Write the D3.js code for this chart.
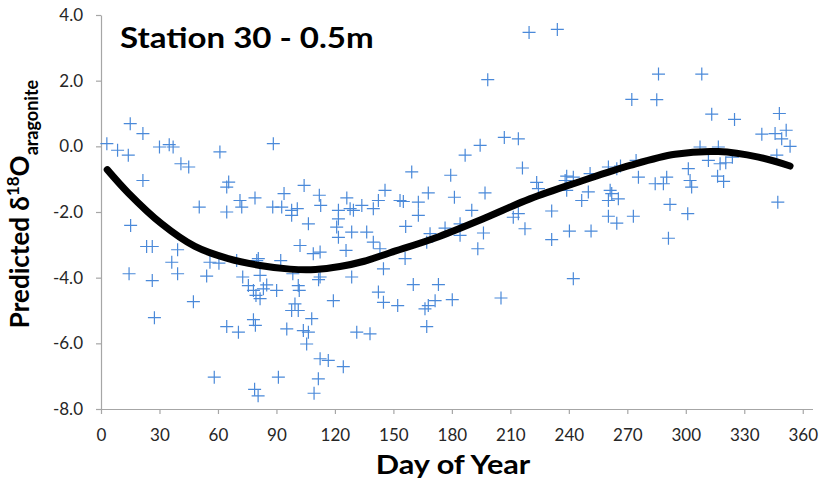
<!DOCTYPE html>
<html>
<head>
<meta charset="utf-8">
<script src="https://cdn.jsdelivr.net/npm/d3@7"></script>
<style>
  body { margin: 0; background: #fff; }
  svg { display: block; }
</style>
</head>
<body>
<div id="chart"></div>
<script>
// day of year, predicted d18O
const points = [
  [3,0.08],[8.5,-0.12],[15,0.69],[21.5,0.39],[14,-0.27],[21.5,-1.04],[30,-0.02],[35,0.05],[37,-0.02],
  [41,-0.53],[45,-0.63],[61,-0.17],[65.5,-1.09],[64.5,-1.24],[71.3,-1.65],[72.2,-1.85],[50.4,-1.85],
  [64.5,-2.0],[15.2,-2.41],[23.4,-3.05],[26.3,-3.05],[39.3,-3.15],[36.3,-3.53],[14.4,-3.88],[26.3,-4.09],
  [39.3,-3.88],[54.2,-3.95],[55.9,-3.53],[60.5,-3.56],[69.6,-3.48],[72.7,-3.98],[47.4,-4.73],[27.4,-5.22],
  [64.5,-5.49],[70.5,-5.66],[58.1,-7.03],[78.2,-5.28],[79.2,-5.45],[78.8,-7.4],[80.6,-7.6],
  [75.6,-4.24],[78.2,-4.39],[79.5,-4.54],[81.6,-4.64],[83.3,-4.34],[85,-4.22],[81.6,-3.93],[79.9,-3.48],
  [90.1,-4.39],[91,-7.03],
  [88.4,0.08],[104.2,-1.19],[79,-1.57],[88.1,-1.85],[93.9,-1.44],[92.7,-1.85],[97.8,-1.95],[97.8,-2.10],
  [100.7,-1.90],[112,-1.49],[112.7,-1.80],[106.4,-2.36],[102.1,-3.02],[108.9,-3.27],[112.4,-3.22],
  [126.1,-1.57],[121.8,-1.95],[121.8,-2.21],[120.9,-2.46],[121.8,-2.77],[127.8,-1.90],[129.5,-1.95],
  [133.8,-1.80],[139.7,-1.90],[142.3,-1.65],[145.7,-1.34],[128.6,-2.61],[136.3,-2.61],[125.7,-3.17],
  [139.7,-2.92],[143.1,-3.12],[144.9,-3.73],[142.3,-4.44],[144.9,-4.75],[128.6,-3.98],[119.2,-4.70],
  [112.4,-3.98],[111.6,-4.06],[98.4,-3.88],[92.2,-3.48],[80.7,-3.42],
  [101.2,-4.24],[101.7,-4.39],[99.5,-4.80],[97.8,-5.0],[101.2,-5.0],[108.1,-5.25],[103.8,-5.61],
  [106.4,-5.66],[105.5,-6.02],[95.3,-5.56],[112.4,-6.47],[116.6,-6.52],[124.3,-6.71],[111.5,-7.08],
  [109.3,-7.52],[131.2,-5.66],[138,-5.71],
  [219.6,3.47],[198.4,2.03],[206.9,0.27],[214.1,0.23],[216.2,-0.66],[186.8,-0.27],[194.5,0.03],
  [179.4,-0.88],[159.4,-0.78],[153.4,-1.65],[155.1,-1.68],[162.8,-1.70],[167.9,-1.42],[162.8,-2.10],
  [156.3,-2.44],[181.3,-1.55],[197,-1.42],[190.2,-1.95],[184.2,-2.36],[176.5,-2.49],[184.2,-2.71],
  [196.2,-2.64],[193.3,-3.12],[168.8,-2.66],[167.1,-2.92],[211.5,-2.16],[214.1,-2.05],[217.5,-2.51],
  [156,-3.42],[160.2,-4.21],[173.1,-4.21],[152.2,-4.85],[166.2,-4.95],[167.9,-4.85],[171.4,-4.70],
  [180.2,-4.67],[167.1,-5.49],[205.2,-4.62],
  [234.1,3.56],[286,2.20],[272.3,1.43],[285.1,1.42],[223.5,-1.1],[224.4,-1.29],[238.9,-0.91],
  [238.1,-1.04],[242.3,-0.94],[238.9,-1.34],[250.9,-0.83],[250,-1.39],[246.6,-1.65],[260.3,-0.63],
  [264.6,-0.68],[266.5,-0.6],[261.2,-1.34],[260.3,-1.65],[265.4,-1.60],[262,-1.44],[274.5,-0.43],
  [275.7,-0.94],[284.3,-1.14],[290.2,-0.94],[288.5,-1.14],[291.9,-1.77],[273.1,-2.13],[260.3,-2.13],
  [264.6,-2.34],[251.4,-2.58],[240.3,-2.58],[231.2,-1.97],[231.2,-2.84],[291.1,-2.80],[242.3,-4.03],
  [308.2,2.20],[313.3,0.98],[325,0.82],[348,1.0],[339,0.37],[345.8,0.39],[351.5,0.49],[349.2,0.23],
  [353.5,0.0],[346.7,-0.27],[347.2,-1.70],[307.3,-0.02],[316.7,-0.02],[311.6,-0.43],[317.6,-0.53],
  [320.5,-0.5],[323.9,-0.33],[301.3,-0.68],[302.2,-1.04],[303,-1.24],[316.3,-0.91],[319.4,-1.07],
  [301,-2.05]
];

// fitted trend line, sampled from the figure
const trend = [
  [3.2,-0.71],[14,-1.42],[31.1,-2.36],[48.2,-3.05],[65.3,-3.42],[81.6,-3.63],[97,-3.74],[110,-3.75],
  [122.6,-3.66],[135,-3.5],[148.3,-3.24],[171.4,-2.79],[197,-2.18],[220,-1.6],[245.8,-1.07],
  [271.4,-0.58],[294.5,-0.24],[316.7,-0.16],[337.3,-0.33],[353.5,-0.60]
];

const xTicks = [0, 30, 60, 90, 120, 150, 180, 210, 240, 270, 300, 330, 360];
const yTicks = [-8, -6, -4, -2, 0, 2, 4];

const width = 821, height = 482;
const font = "Lato, 'Open Sans', sans-serif";

const svg = d3.select('#chart').append('svg')
  .attr('width', width)
  .attr('height', height)
  .style('background', '#fff');

const x = d3.scaleLinear().domain([0, 365]).range([101, 812.5]);
const y = d3.scaleLinear().domain([-8, 4]).range([409, 15]);

// axes
const xAxis = svg.append('g')
  .attr('transform', 'translate(0,' + y(-8) + ')')
  .call(d3.axisBottom(x).tickValues(xTicks).tickSizeInner(5).tickSizeOuter(0).tickPadding(15)
    .tickFormat(d => String(d)));

const yAxis = svg.append('g')
  .attr('transform', 'translate(' + x(0) + ',0)')
  .call(d3.axisLeft(y).tickValues(yTicks).tickSizeInner(5).tickSizeOuter(0).tickPadding(13)
    .tickFormat(d => d.toFixed(1)));

[xAxis, yAxis].forEach(g => {
  g.select('.domain').attr('stroke', '#a6a6a6').attr('stroke-width', 1.2);
  g.selectAll('.tick line').attr('stroke', '#a6a6a6').attr('stroke-width', 1.2);
  g.selectAll('.tick text')
    .attr('fill', '#262626')
    .style('font-family', font)
    .style('font-size', '17px');
});

// scatter crosses
const half = 6.5;
svg.append('g')
  .selectAll('path')
  .data(points)
  .enter().append('path')
  .attr('d', d => {
    const cx = x(d[0]), cy = y(d[1]);
    return `M${cx - half},${cy}H${cx + half}M${cx},${cy - half}V${cy + half}`;
  })
  .attr('stroke', '#4a89d9')
  .attr('stroke-width', 1.2)
  .attr('fill', 'none');

// trend line
const line = d3.line()
  .x(d => x(d[0]))
  .y(d => y(d[1]))
  .curve(d3.curveCatmullRom.alpha(0.5));

svg.append('path')
  .datum(trend)
  .attr('d', line)
  .attr('fill', 'none')
  .attr('stroke', '#000')
  .attr('stroke-width', 7)
  .attr('stroke-linecap', 'round');

// title (stretched a bit to match the wide original lettering)
svg.append('text')
  .attr('transform', 'translate(120,48) scale(1.14,1)')
  .style('font-family', font)
  .style('font-weight', 'bold')
  .style('font-size', '29px')
  .text('Station 30 - 0.5m');

// x label
svg.append('text')
  .attr('transform', 'translate(453,474) scale(1.18,1)')
  .attr('text-anchor', 'middle')
  .style('font-family', font)
  .style('font-weight', 'bold')
  .style('font-size', '26px')
  .text('Day of Year');

// y label
const yl = svg.append('text')
  .attr('transform', 'translate(29,204) rotate(-90)')
  .attr('text-anchor', 'middle')
  .style('font-family', font)
  .style('font-weight', 'bold')
  .style('font-size', '26px');
yl.append('tspan').text('Predicted δ');
yl.append('tspan').attr('dy', -10).style('font-size', '17px').text('18');
yl.append('tspan').attr('dy', 10).text('O');
yl.append('tspan').attr('dy', 9).style('font-size', '18px').text('aragonite');
</script>
</body>
</html>
